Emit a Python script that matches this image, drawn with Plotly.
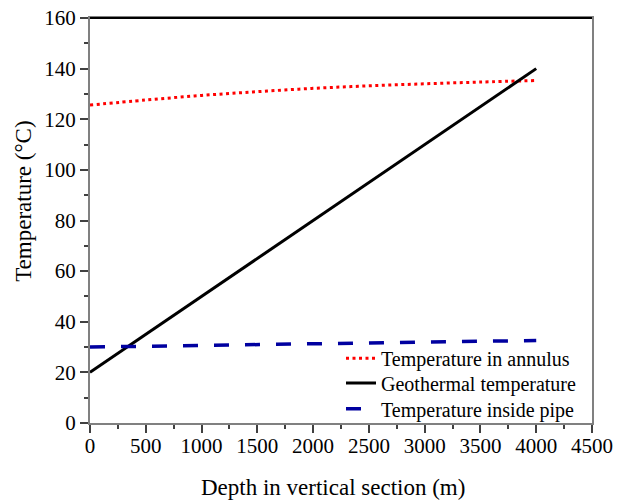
import plotly.graph_objects as go

depth = [0, 500, 1000, 1500, 2000, 2500, 3000, 3500, 4000]
t_annulus = [125.6, 127.6, 129.4, 130.9, 132.2, 133.2, 134.0, 134.7, 135.3]
t_geo = [20, 35, 50, 65, 80, 95, 110, 125, 140]
t_pipe = [30.0, 30.3, 30.6, 30.9, 31.2, 31.55, 31.9, 32.25, 32.6]

font = "Liberation Serif, Times New Roman, serif"

fig = go.Figure()
fig.add_trace(go.Scatter(x=depth, y=t_annulus, mode="lines", name="Temperature in annulus",
                         legend="legend",
                         line=dict(color="#ff0000", width=3, dash="3px,3.5px", shape="spline")))
fig.add_trace(go.Scatter(x=depth, y=t_geo, mode="lines", name="Geothermal temperature",
                         legend="legend2",
                         line=dict(color="#000000", width=3)))
fig.add_trace(go.Scatter(x=depth, y=t_pipe, mode="lines", name="Temperature inside pipe",
                         legend="legend3",
                         line=dict(color="#0000a0", width=3.5, dash="15px,16px")))

axis_common = dict(showgrid=False, zeroline=False, showline=True, linecolor="#808080",
                   linewidth=2, mirror=True, ticks="outside", ticklen=8, tickwidth=1.5,
                   tickcolor="#404040", tickfont=dict(family=font, size=21, color="#000"),
                   automargin=False,
                   minor=dict(ticks="outside", ticklen=4, tickwidth=1.5, tickcolor="#404040"))

fig.update_xaxes(range=[0, 4500], tick0=0, dtick=500, minor_dtick=250,
                 ticklabelstandoff=-5, **axis_common)
fig.update_yaxes(range=[0, 160], tick0=0, dtick=20, minor_dtick=10, **axis_common)

fig.add_shape(type="line", xref="paper", yref="paper", x0=0, x1=1, y0=1, y1=1,
              line=dict(color="#000000", width=2))

fig.add_annotation(text="Depth in vertical section (m)", xref="paper", yref="paper",
                   x=0.484, y=0, yshift=-64, xanchor="center", yanchor="middle", showarrow=False,
                   font=dict(family=font, size=23, color="#000"))
fig.add_annotation(text="Temperature (°C)", xref="paper", yref="paper", textangle=-90,
                   x=0, xshift=-66, y=0.546, xanchor="center", yanchor="middle", showarrow=False,
                   font=dict(family=font, size=23, color="#000"))

leg_common = dict(x=0.5, xanchor="left", yanchor="middle",
                  font=dict(family=font, size=20, color="#000"),
                  bgcolor="rgba(0,0,0,0)")

fig.update_layout(
    width=626, height=500,
    margin=dict(l=90, r=34, t=18, b=77),
    plot_bgcolor="white", paper_bgcolor="white",
    showlegend=True,
    legend=dict(y=0.160, **leg_common),
    legend2=dict(y=0.099, **leg_common),
    legend3=dict(y=0.035, **leg_common),
)

fig.write_html("out.html")
